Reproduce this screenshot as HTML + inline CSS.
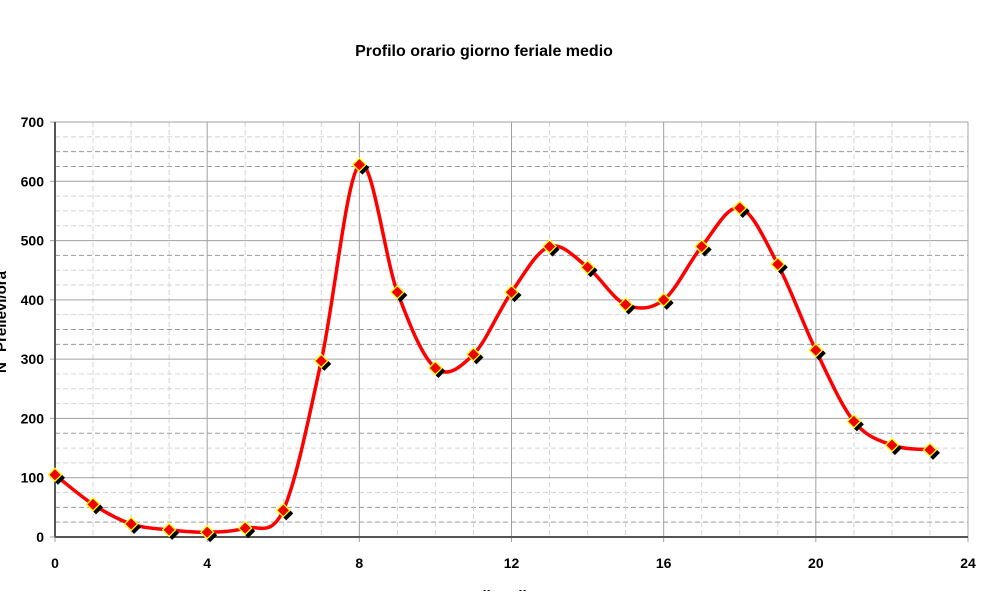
<!DOCTYPE html>
<html><head><meta charset="utf-8"><style>
body{margin:0;background:#fff;width:999px;height:591px;overflow:hidden}
text{font-family:"Liberation Sans",Arial,sans-serif;font-weight:bold;fill:#000}
</style></head><body>
<svg id="chart" width="999" height="591">
<text x="484" y="56" font-size="16" text-anchor="middle">Profilo orario giorno feriale medio</text>
<g id="grid"></g><g id="axes"></g><g id="series"></g>
<text x="500" y="601" font-size="15" text-anchor="middle">Ora di prelievo</text>
<text transform="translate(6,322) rotate(-90)" font-size="15" text-anchor="middle">N° Prelievi/ora</text>
</svg>
<script>
const hours=[0,1,2,3,4,5,6,7,8,9,10,11,12,13,14,15,16,17,18,19,20,21,22,23];
const values=[105,55,22,12,8,15,45,297,628,413,285,308,413,490,455,392,400,490,555,460,315,195,155,147];
const xTicks=[0,4,8,12,16,20,24];
const yTicks=[0,100,200,300,400,500,600,700];
const X=v=>55+v*(968-55)/24, Y=v=>537-v*(537-122)/700;
const NS="http://www.w3.org/2000/svg";
function mk(p,t,a){const e=document.createElementNS(NS,t);for(const k in a)e.setAttribute(k,a[k]);p.appendChild(e);return e;}
const g=document.getElementById('grid'),ax=document.getElementById('axes'),s=document.getElementById('series');
const dark=[25,50,175,325,350,475,625,650];
for(let v=25;v<700;v+=25){if(v%100===0)continue;
 const l=mk(g,'line',{x1:55,x2:968,y1:Y(v),y2:Y(v),stroke:dark.includes(v)?'#999':'#d4d4d4','stroke-dasharray':'5,3','stroke-width':1});
 
 }
for(let h=1;h<24;h++){if(h%4===0)continue;
 const l=mk(g,'line',{x1:X(h),x2:X(h),y1:122,y2:537,stroke:'#d4d4d4','stroke-dasharray':'5,3'});
 
 }
yTicks.forEach(v=>{
 const l=mk(g,'line',{x1:50,x2:968,y1:Y(v),y2:Y(v),stroke:'#a0a0a0'});
 
 
 const t=mk(ax,'text',{x:44,y:Y(v)+5,'font-size':14,'text-anchor':'end'});t.textContent=v;
 
 });
xTicks.forEach(v=>{
 const l=mk(g,'line',{x1:X(v),x2:X(v),y1:122,y2:542,stroke:'#a0a0a0'});
 
 
 const t=mk(ax,'text',{x:X(v),y:568,'font-size':14,'text-anchor':'middle'});t.textContent=v;
 
 });
const a1=mk(ax,'line',{x1:55,x2:55,y1:122,y2:537,stroke:'#555','stroke-width':2});

const a2=mk(ax,'line',{x1:55,x2:968,y1:537,y2:537,stroke:'#555','stroke-width':2});

const pts=hours.map((h,i)=>[X(h),Y(values[i])]);
let d='M'+pts[0].join(',');
for(let i=0;i<pts.length-1;i++){const p0=pts[Math.max(i-1,0)],p1=pts[i],p2=pts[i+1],p3=pts[Math.min(i+2,pts.length-1)];
 const k=1/6;d+=` C${p1[0]+(p2[0]-p0[0])*k},${p1[1]+(p2[1]-p0[1])*k} ${p2[0]-(p3[0]-p1[0])*k},${p2[1]-(p3[1]-p1[1])*k} ${p2[0]},${p2[1]}`;}
const line=mk(s,'path',{d:d,fill:'none',stroke:'#f00','stroke-width':3.5});

pts.forEach(p=>{
 const sh=mk(s,'path',{d:`M${p[0]+3},${p[1]-4}l7,7l-7,7l-7,-7z`,fill:'#000'});
 });
pts.forEach(p=>{
 const m=mk(s,'path',{d:`M${p[0]},${p[1]-6.5}l6.5,6.5l-6.5,6.5l-6.5,-6.5z`,fill:'#e00',stroke:'#ff0','stroke-width':1.3});
 });
</script>
</body></html>
